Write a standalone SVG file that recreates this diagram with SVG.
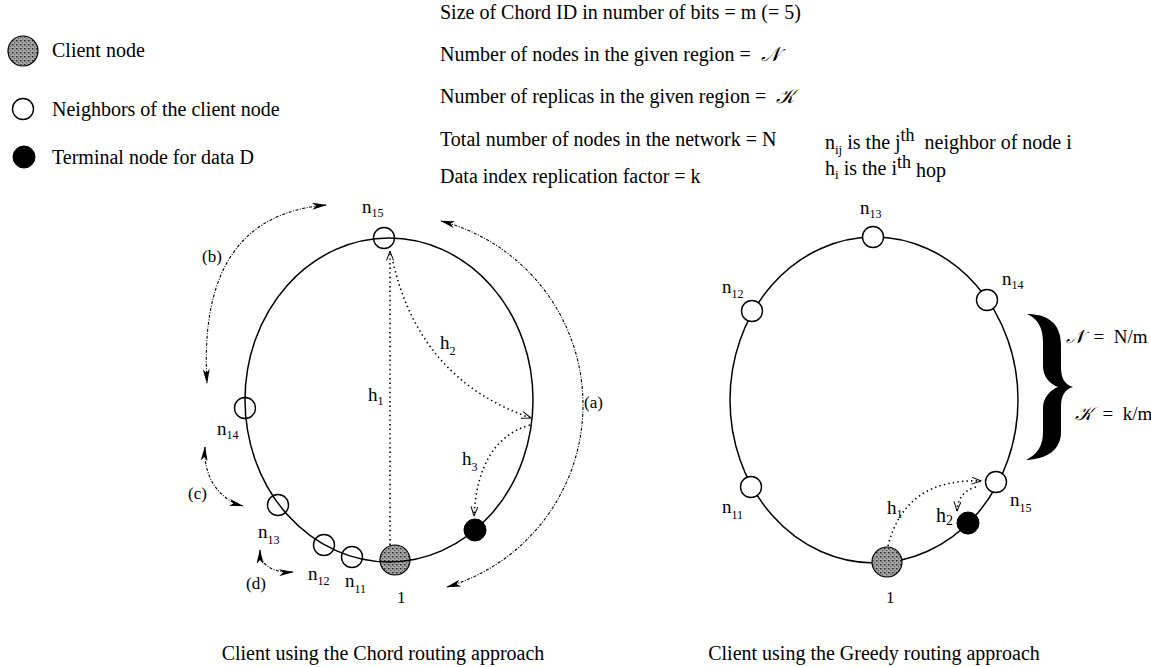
<svg xmlns="http://www.w3.org/2000/svg" width="1151" height="667" viewBox="0 0 1151 667">
<style>
text{font-family:"Liberation Serif","Times New Roman",serif;fill:#000;white-space:pre}
.big{font-size:20px}
.lbl{font-size:19px}
.sm{font-size:12px}
.par{font-size:17px}
.ring{fill:none;stroke:#000;stroke-width:1.5}
.nb{fill:#fff;stroke:#000;stroke-width:1.4}
.tm{fill:#000;stroke:#000;stroke-width:1}
.cl{fill:url(#stip);stroke:#000;stroke-width:1.2}
.hop{fill:none;stroke:#000;stroke-width:1.6;stroke-dasharray:1.4 3.2}
.arc{fill:none;stroke:#000;stroke-width:1.1;stroke-dasharray:3 1.5 1 1.5}
.scr{font-family:"DejaVu Serif","Noto Sans",serif;font-style:italic}
</style>
<defs>
<pattern id="stip" width="4" height="4" patternUnits="userSpaceOnUse">
<rect width="4" height="4" fill="#a8a8a8"/>
<rect x="0" y="0" width="1.5" height="1.5" fill="#2a2a2a"/>
<rect x="2" y="2" width="1.2" height="1.2" fill="#555"/>
<rect x="2.5" y="0" width="1" height="1" fill="#777"/>
</pattern>
<marker id="fa" viewBox="0 0 15 7" refX="14" refY="3.5" markerWidth="15" markerHeight="7" orient="auto-start-reverse" markerUnits="userSpaceOnUse">
<path d="M0,0 L15,3.5 L0,7 L4,3.5 Z" fill="#000"/>
</marker>
<marker id="oa" viewBox="0 0 10 8" refX="9.5" refY="4" markerWidth="10" markerHeight="8" orient="auto" markerUnits="userSpaceOnUse">
<path d="M0,0.5 L9.5,4 L0,7.5" fill="none" stroke="#000" stroke-width="1"/>
</marker>
</defs>
<rect width="1151" height="667" fill="#fff"/>

<g id="legend-client"><circle cx="23" cy="51" r="15" class="cl"/><text class="big" x="52" y="57">Client node</text></g>
<g id="legend-neighbor"><circle cx="23" cy="109" r="10.5" class="nb"/><text class="big" x="52" y="116">Neighbors of the client node</text></g>
<g id="legend-terminal"><circle cx="24" cy="157" r="11" class="tm"/><text class="big" x="52" y="164">Terminal node for data D</text></g>

<g id="definitions">
<text class="big" x="440" y="19">Size of Chord ID in number of bits = m (= 5)</text>
<text class="big" x="440" y="61">Number of nodes in the given region =  <tspan class="scr">𝒩</tspan></text>
<text class="big" x="440" y="103">Number of replicas in the given region =  <tspan class="scr">𝒦</tspan></text>
<text class="big" x="440" y="146">Total number of nodes in the network = N</text>
<text class="big" x="440" y="183">Data index replication factor = k</text>
<text class="big" x="825" y="149">n<tspan dy="5" font-size="13">ij</tspan><tspan dy="-5"> is the j</tspan><tspan dy="-8" font-size="18">th</tspan><tspan dy="8">  neighbor of node i</tspan></text>
<text class="big" x="825" y="175">h<tspan dy="4" font-size="13">i</tspan><tspan dy="-4"> is the i</tspan><tspan dy="-7" font-size="18">th</tspan><tspan dy="9"> hop</tspan></text>
</g>

<!-- Chord (left) -->
<g id="chord-n15"><circle cx="384" cy="238" r="10.5" class="nb"/><text class="lbl" x="362" y="213">n<tspan class="sm" dy="4">15</tspan></text></g>
<g id="chord-n14"><circle cx="245" cy="408" r="10.5" class="nb"/><text class="lbl" x="217" y="435">n<tspan class="sm" dy="4">14</tspan></text></g>
<g id="chord-n13"><circle cx="278" cy="505" r="10.5" class="nb"/><text class="lbl" x="258" y="538">n<tspan class="sm" dy="6">13</tspan></text></g>
<g id="chord-n12"><circle cx="324" cy="545" r="10.5" class="nb"/><text class="lbl" x="308" y="580">n<tspan class="sm" dy="5">12</tspan></text></g>
<g id="chord-n11"><circle cx="352" cy="557" r="10.5" class="nb"/><text class="lbl" x="345" y="587">n<tspan class="sm" dy="6">11</tspan></text></g>
<g id="chord-client"><circle cx="395" cy="560" r="15" class="cl"/><text class="par" x="397" y="603">1</text></g>
<g id="chord-terminal"><circle cx="475" cy="530" r="11" class="tm"/></g>
<g id="chord-ring"><ellipse cx="389" cy="400" rx="144" ry="162" class="ring"/></g>

<!-- Greedy (right) -->
<g id="greedy-ring"><ellipse cx="874" cy="400" rx="144" ry="163" class="ring"/></g>
<g id="greedy-n13"><circle cx="873" cy="237" r="10.5" class="nb"/><text class="lbl" x="860" y="214">n<tspan class="sm" dy="4">13</tspan></text></g>
<g id="greedy-n12"><circle cx="752" cy="311" r="10.5" class="nb"/><text class="lbl" x="722" y="293">n<tspan class="sm" dy="5">12</tspan></text></g>
<g id="greedy-n14"><circle cx="987" cy="300" r="10.5" class="nb"/><text class="lbl" x="1002" y="285">n<tspan class="sm" dy="4">14</tspan></text></g>
<g id="greedy-n11"><circle cx="751" cy="487" r="10.5" class="nb"/><text class="lbl" x="722" y="513">n<tspan class="sm" dy="6">11</tspan></text></g>
<g id="greedy-n15"><circle cx="996" cy="482" r="10.5" class="nb"/><text class="lbl" x="1010" y="506">n<tspan class="sm" dy="6">15</tspan></text></g>
<g id="greedy-terminal"><circle cx="968" cy="523" r="11" class="tm"/></g>
<g id="greedy-client"><circle cx="887" cy="562" r="15" class="cl"/><text class="par" x="886" y="603">1</text></g>

<g id="connectors">
<path class="hop" d="M390,545 L390,251" marker-end="url(#oa)"/>
<path class="hop" d="M393,262 Q420,380 531,418" marker-end="url(#oa)"/>
<path class="hop" d="M530,425 Q478,440 474,516" marker-end="url(#oa)"/>
<path class="arc" d="M441,221 A190,190 0 0 1 447,587" marker-start="url(#fa)" marker-end="url(#fa)"/>
<path class="arc" d="M326,205 C245,212 200,265 207,383" marker-start="url(#fa)" marker-end="url(#fa)"/>
<path class="arc" d="M205,447 C203,478 220,500 243,506" marker-start="url(#fa)" marker-end="url(#fa)"/>
<path class="arc" d="M260,550 C260,565 272,573 293,572" marker-start="url(#fa)" marker-end="url(#fa)"/>
<path class="hop" d="M888,546 Q905,478 981,481" marker-end="url(#oa)"/>
<path class="hop" d="M976,487 Q958,492 957,511" marker-end="url(#oa)"/>
</g>

<g id="chord-labels">
<text class="lbl" x="368" y="401">h<tspan class="sm" dy="4">1</tspan></text>
<text class="lbl" x="440" y="349">h<tspan class="sm" dy="6">2</tspan></text>
<text class="lbl" x="462" y="465">h<tspan class="sm" dy="6">3</tspan></text>
<text class="par" x="584" y="408">(a)</text>
<text class="par" x="202" y="262">(b)</text>
<text class="par" x="188" y="499">(c)</text>
<text class="par" x="246" y="589">(d)</text>
</g>

<g id="greedy-labels">
<text class="lbl" x="887" y="514">h<tspan class="sm" dy="4">1</tspan></text>
<text class="big" x="936" y="522">h<tspan font-size="14" dy="3">2</tspan></text>
</g>

<g id="brace">
<path d="M1027,314 C1046,314 1061,322 1061,345 L1061,368 C1061,378 1065,385 1073,387 C1065,389 1061,396 1061,406 L1061,432 C1061,450 1047,459 1026,460 C1038,454 1043,445 1043,432 L1043,408 C1043,398 1050,390 1058,387 C1050,384 1043,377 1043,366 L1043,342 C1043,328 1038,319 1027,314 Z" fill="#000"/>
<text class="lbl" x="1066" y="343"><tspan class="scr">𝒩</tspan>  =  N/m</text>
<text class="lbl" x="1075" y="420"><tspan class="scr">𝒦</tspan>  =  k/m</text>
</g>

<g id="captions">
<text class="big" x="383" y="660" text-anchor="middle">Client using the Chord routing approach</text>
<text class="big" x="874" y="660" text-anchor="middle">Client using the Greedy routing approach</text>
</g>
</svg>
